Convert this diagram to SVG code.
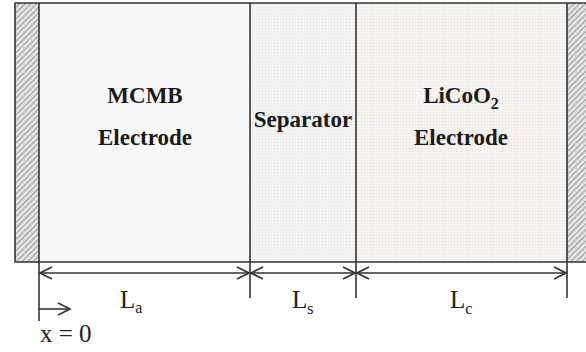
<svg xmlns="http://www.w3.org/2000/svg" width="586" height="352" viewBox="0 0 586 352">
<defs>
<pattern id="hatch" width="4" height="4" patternUnits="userSpaceOnUse" patternTransform="rotate(45)">
<rect width="4" height="4" fill="#e2e2e2"/>
<line x1="0" y1="0" x2="0" y2="4" stroke="#8a8a8a" stroke-width="1.6"/>
</pattern>
<pattern id="dotsA" width="4" height="4" patternUnits="userSpaceOnUse">
<rect width="4" height="4" fill="#fbfbfb"/>
<rect x="1" y="1" width="1" height="1" fill="#ececec"/>
</pattern>
<pattern id="dotsS" width="3" height="3" patternUnits="userSpaceOnUse">
<rect width="3" height="3" fill="#f4f4f4"/>
<rect x="1" y="1" width="1" height="1" fill="#e2e2e2"/>
</pattern>
<pattern id="dotsC" width="3" height="3" patternUnits="userSpaceOnUse">
<rect width="3" height="3" fill="#f7f4f1"/>
<rect x="1" y="1" width="1" height="1" fill="#e6e0da"/>
</pattern>
<marker id="chev" viewBox="0 0 14 14" refX="13" refY="7" markerWidth="14" markerHeight="14" markerUnits="userSpaceOnUse" orient="auto-start-reverse">
<path d="M1,1 L13,7 L1,13" fill="none" stroke="#333" stroke-width="1.6"/>
</marker>
</defs>
<style>
.edge{stroke:#333;stroke-width:1.6;fill:none}
.bt{font-family:"Liberation Serif","Times New Roman",serif;font-weight:bold;font-size:23px;fill:#1a1a1a;text-anchor:middle}
.lb{font-family:"Liberation Serif","Times New Roman",serif;font-size:25px;fill:#222}
.sub{font-size:16px}
</style>
<rect width="586" height="352" fill="#fff"/>
<g id="anode-collector"><rect x="15" y="3" width="24" height="259" fill="url(#hatch)"/></g>
<g id="anode"><rect x="39" y="3" width="211" height="259" fill="url(#dotsA)"/>
<text class="bt" x="145" y="103">MCMB</text>
<text class="bt" x="145" y="145">Electrode</text></g>
<g id="separator"><rect x="250" y="3" width="106" height="259" fill="url(#dotsS)"/>
<text class="bt" x="303" y="127">Separator</text></g>
<g id="cathode"><rect x="356" y="3" width="211" height="259" fill="url(#dotsC)"/>
<text class="bt" x="461" y="103">LiCoO<tspan class="sub" dy="6">2</tspan></text>
<text class="bt" x="461" y="145">Electrode</text></g>
<g id="cathode-collector"><rect x="567" y="3" width="19" height="259" fill="url(#hatch)"/></g>
<g id="outline">
<path class="edge" d="M586,3 H15 V262 H586"/>
<path class="edge" d="M39,3 V321"/>
<path class="edge" d="M250,3 V298"/>
<path class="edge" d="M356,3 V298"/>
<path class="edge" d="M567,3 V298"/>
</g>
<g id="connectors">
<line class="edge" x1="40" y1="273" x2="249" y2="273" marker-start="url(#chev)" marker-end="url(#chev)"/>
<line class="edge" x1="251" y1="273" x2="355" y2="273" marker-start="url(#chev)" marker-end="url(#chev)"/>
<line class="edge" x1="357" y1="273" x2="566" y2="273" marker-start="url(#chev)" marker-end="url(#chev)"/>
<line class="edge" x1="39" y1="309" x2="70" y2="309" marker-end="url(#chev)"/>
</g>
<g id="labels">
<text class="lb" x="120" y="308">L<tspan class="sub" dy="5">a</tspan></text>
<text class="lb" x="292" y="308">L<tspan class="sub" dy="6">s</tspan></text>
<text class="lb" x="450" y="308">L<tspan class="sub" dy="6">c</tspan></text>
<text class="lb" x="40" y="342">x = 0</text>
</g>
</svg>
